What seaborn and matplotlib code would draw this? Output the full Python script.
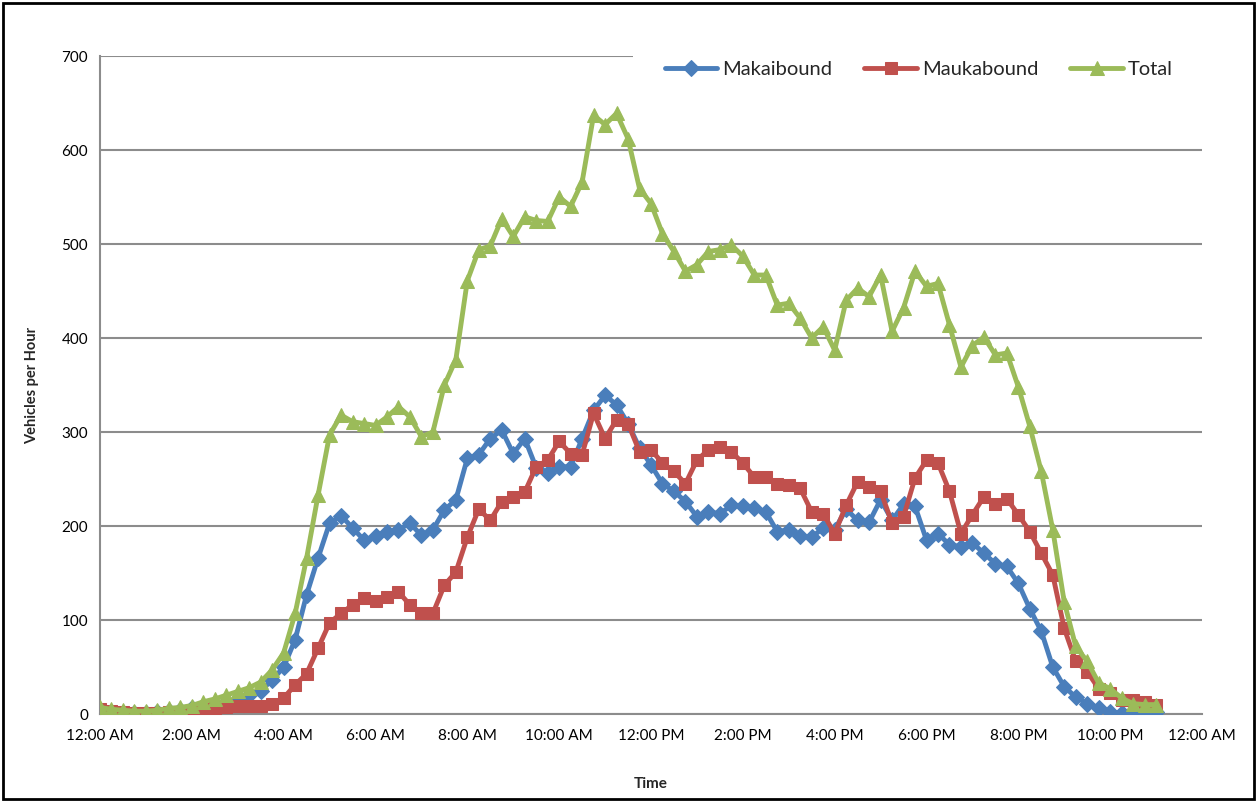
import numpy as np
import pandas as pd
import seaborn as sns
import matplotlib.pyplot as plt
from matplotlib.patches import Rectangle

# 15-minute counts, 12:00 AM to 11:00 PM (93 points)
makaibound = [2, 2, 1, 1, 1, 2, 3, 4, 6, 8, 10, 13, 16, 20, 25,
              36, 50, 79, 127, 166, 203, 211, 198, 185, 189, 194, 196, 203, 190, 196, 217, 228, 272,
              276, 293, 302, 277, 293, 262, 256, 263, 263, 293, 323, 339, 329, 309, 283, 265,
              245, 237, 226, 210, 215, 213, 222, 221, 219, 215, 194, 196, 189, 188, 198, 196,
              218, 206, 204, 228, 206, 223, 221, 185, 192, 180, 178, 182, 171, 160, 157, 139,
              112, 88, 50, 29, 18, 11, 6, 2, 1, 1, 1, 2]
maukabound = [5, 3, 2, 1, 1, 1, 2, 2, 3, 5, 6, 7, 8, 9, 9,
              11, 17, 31, 43, 70, 97, 107, 116, 123, 120, 125, 130, 116, 107, 107, 137, 151, 188,
              218, 206, 226, 231, 236, 263, 270, 290, 277, 276, 320, 293, 313, 309, 279, 281,
              267, 258, 245, 270, 281, 284, 279, 267, 252, 252, 245, 244, 240, 215, 213, 192,
              222, 247, 242, 237, 203, 210, 251, 270, 267, 237, 192, 212, 231, 223, 229, 212,
              194, 171, 148, 91, 56, 45, 27, 22, 15, 15, 13, 10]
total = [7, 5, 4, 3, 3, 4, 6, 7, 9, 13, 16, 20, 24, 28, 34,
         47, 65, 107, 166, 233, 297, 318, 311, 309, 307, 316, 327, 316, 295, 300, 350, 377, 461,
         494, 498, 527, 508, 529, 525, 524, 550, 540, 566, 637, 627, 639, 612, 559, 543,
         511, 492, 471, 478, 492, 494, 499, 487, 467, 467, 435, 437, 421, 400, 412, 387,
         440, 453, 444, 467, 407, 432, 471, 455, 458, 414, 369, 392, 401, 382, 384, 348,
         306, 258, 196, 119, 72, 56, 33, 27, 17, 11, 10, 10]

hours = np.arange(len(total)) * 0.25
tick_labels = ['12:00 AM', '2:00 AM', '4:00 AM', '6:00 AM', '8:00 AM', '10:00 AM',
               '12:00 PM', '2:00 PM', '4:00 PM', '6:00 PM', '8:00 PM', '10:00 PM', '12:00 AM']

series = {'Makaibound': makaibound, 'Maukabound': maukabound, 'Total': total}
df = pd.concat([pd.DataFrame({'hour': hours, 'vph': v, 'dir': k}) for k, v in series.items()])

sns.set_style('white')
plt.rcParams['font.family'] = ['Lato', 'DejaVu Sans']

colors = {'Makaibound': '#4A7EBB', 'Maukabound': '#C0504D', 'Total': '#9BBB59'}
markers = {'Makaibound': 'D', 'Maukabound': 's', 'Total': '^'}
sizes = {'Makaibound': 8, 'Maukabound': 8.5, 'Total': 10}

fig = plt.figure(figsize=(12.57, 8.01), dpi=100)
ax = fig.add_axes([100 / 1257, 1 - 714 / 801, 1102 / 1257, 658 / 801])

for name in series:
    sub = df[df['dir'] == name]
    sns.lineplot(data=sub, x='hour', y='vph', ax=ax, color=colors[name], label=name,
                 marker=markers[name], markersize=sizes[name], markeredgecolor=colors[name],
                 linewidth=3.5, zorder=3)

ax.set_xlim(0, 24)
ax.set_ylim(0, 700)
ax.set_yticks(range(0, 701, 100))
ax.set_xticks(range(0, 25))
ax.set_xticklabels([tick_labels[i // 2] if i % 2 == 0 else '' for i in range(25)])
ax.yaxis.grid(True, color='#8c8c8c', linewidth=1.5)
ax.set_axisbelow(True)
for s in ['top', 'right']:
    ax.spines[s].set_visible(False)
for s in ['left', 'bottom']:
    ax.spines[s].set_color('#8c8c8c')
    ax.spines[s].set_linewidth(1.5)
ax.tick_params(axis='both', colors='#8c8c8c', length=5, width=1.2, labelcolor='black',
               labelsize=11, direction='out')
ax.tick_params(axis='x', pad=6)
ax.set_xlabel('Time', fontsize=11, fontweight='bold', labelpad=24)
ax.set_ylabel('Vehicles per Hour', fontsize=10.5, fontweight='bold', labelpad=16)

# white box behind the legend hides the top gridline
ax.add_patch(Rectangle((0.4837, 0.96), 0.52, 0.07, transform=ax.transAxes,
                       facecolor='white', edgecolor='none', zorder=2, clip_on=False))
leg = ax.legend(loc='center right', bbox_to_anchor=(0.99, 0.979), ncol=3, frameon=False,
                fontsize=14.5, handlelength=2.6, handletextpad=0.25, columnspacing=1.6)
leg.set_zorder(5)

fig.patches.append(Rectangle((0.002, 0.002), 0.996, 0.994, transform=fig.transFigure,
                             facecolor='none', edgecolor='black', linewidth=2))

fig.savefig('out.png', dpi=100)
